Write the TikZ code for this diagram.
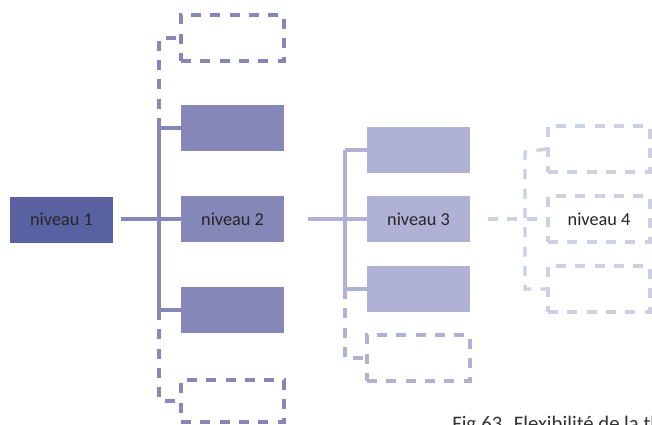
\documentclass[tikz,border=0pt]{standalone}
\usepackage{fontspec}
\setmainfont{Carlito}
\definecolor{cA}{HTML}{5A61A3}
\definecolor{cB}{HTML}{8587B9}
\definecolor{cC}{HTML}{B0B2D5}
\definecolor{cD}{HTML}{CDCFE5}
\begin{document}
\begin{tikzpicture}[x=0.75pt,y=-0.75pt,
  lvl/.style={minimum width=103*0.75pt,minimum height=46*0.75pt,inner sep=0pt,font=\fontsize{13.7}{16}\selectfont,text=black!85},
  fill1/.style={lvl,fill=cA},
  fill2/.style={lvl,fill=cB},
  fill3/.style={lvl,fill=cC},
  dsh/.style={dash pattern=on 7.5pt off 7pt},
  dbox2/.style={lvl,draw=cB,line width=2.6pt,dsh},
  dbox3/.style={lvl,draw=cC,line width=2.6pt,dsh},
  dbox4/.style={lvl,draw=cD,line width=2.6pt,dsh,minimum width=102*0.75pt},
  ln2/.style={draw=cB,line width=2.5pt},
  ln3/.style={draw=cC,line width=2.5pt},
  ln4/.style={draw=cD,line width=2.5pt},
]
\useasboundingbox (0,0) rectangle (652,424);
\clip (0,0) rectangle (652,424);
% level 1
\node[fill1] (n1) at (61.5,219.5) {niveau 1};
% level 2
\node[dbox2] (b2a) at (232.5,38) {};
\node[fill2] (b2b) at (232.5,128) {};
\node[fill2] (n2) at (232.5,219) {niveau 2};
\node[fill2] (b2d) at (232.5,310) {};
\node[dbox2,minimum height=42*0.75pt] (b2e) at (232.5,401) {};
\coordinate (v2a) at (159,38);
\coordinate (v2b) at (159,128);
\coordinate (v2c) at (159,219);
\coordinate (v2d) at (159,310);
\coordinate (v2e) at (159,401);
\coordinate (s1) at (121,219);
\draw[ln2] (s1) -- (n2.west);
\draw[ln2] (v2b) -- (v2d);
\draw[ln2] (v2b) -- (b2b.west);
\draw[ln2] (v2d) -- (b2d.west);
\draw[ln2,dsh] (v2b) -- (v2a) -- (b2a.west);
\draw[ln2,dsh] (v2d) -- (v2e) -- (b2e.west);
% level 3
\node[fill3] (b3a) at (418.5,150) {};
\node[fill3] (n3) at (418.5,219) {niveau 3};
\node[fill3] (b3c) at (418.5,289) {};
\node[dbox3] (b3d) at (418.5,358) {};
\coordinate (v3a) at (345,150);
\coordinate (v3c) at (345,289);
\coordinate (v3d) at (345,358);
\coordinate (s2) at (308,219);
\draw[ln3] (s2) -- (n3.west);
\draw[ln3] (v3a) -- (v3c);
\draw[ln3] (v3a) -- (b3a.west);
\draw[ln3] (v3c) -- (b3c.west);
\draw[ln3,dsh] (v3c) -- (v3d) -- (b3d.west);
% level 4
\node[dbox4] (b4a) at (599,149) {};
\node[dbox4] (n4) at (599,219) {niveau 4};
\node[dbox4] (b4c) at (599,289) {};
\coordinate (v4a) at (525,152);
\coordinate (v4c) at (525,289);
\coordinate (s3) at (488,219);
\draw[ln4,dsh] (s3) -- (n4.west);
\draw[ln4,dsh] (b4a.west) -- (v4a) -- (v4c) -- (b4c.west);
% caption (cut off by the picture's edge, as in the reference)
\node[anchor=north west,inner sep=0pt,font=\fontsize{15.5}{18}\selectfont,text=black!80] (cap) at (452,416) {Fig.63. Flexibilité de la thématique};
\end{tikzpicture}
\end{document}
